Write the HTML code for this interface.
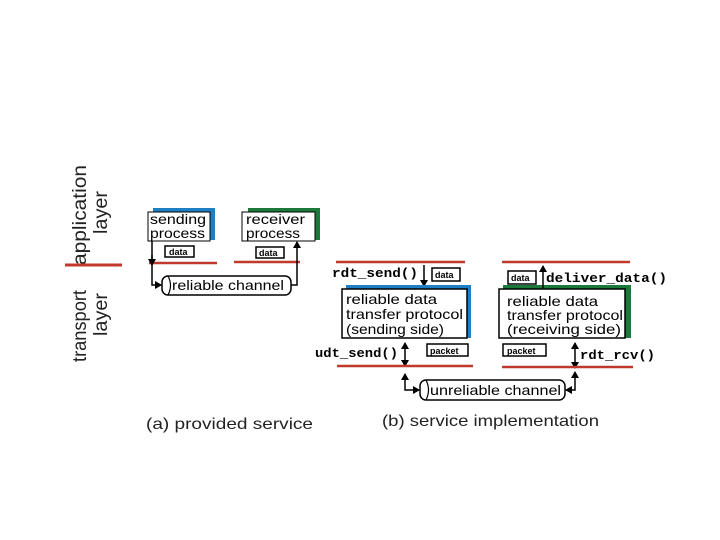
<!DOCTYPE html>
<html><head><meta charset="utf-8"><style>
html,body{margin:0;padding:0;background:#fff;}
svg{display:block;}
.s{font-family:"Liberation Sans",sans-serif;}
.m{font-family:"Liberation Mono",monospace;font-weight:bold;}
</style></head><body>
<svg width="720" height="540" viewBox="0 0 720 540" xmlns="http://www.w3.org/2000/svg">
<defs>
<marker id="a" markerWidth="8" markerHeight="8" refX="6" refY="4" orient="auto" markerUnits="userSpaceOnUse"><path d="M0,0 L7,4 L0,8 z" fill="#000"/></marker>
</defs>
<g class="s" fill="#222" font-size="19">
<text transform="translate(86,265) rotate(-90)" textLength="100" lengthAdjust="spacingAndGlyphs">application</text>
<text transform="translate(107,234) rotate(-90)" textLength="43" lengthAdjust="spacingAndGlyphs">layer</text>
<text transform="translate(86,362) rotate(-90)" textLength="72" lengthAdjust="spacingAndGlyphs">transport</text>
<text transform="translate(107,336) rotate(-90)" textLength="43" lengthAdjust="spacingAndGlyphs">layer</text>
</g>
<line x1="65" y1="265" x2="122" y2="265" stroke="#c0392b" stroke-width="3"/>
<!-- (a) -->
<rect x="153" y="208" width="62" height="32" fill="#1f7fc4"/>
<rect x="148" y="212" width="62" height="29" fill="#fff" stroke="#000" stroke-width="1"/>
<text class="s" x="150" y="224" font-size="14" textLength="56" lengthAdjust="spacingAndGlyphs">sending</text>
<text class="s" x="150" y="238" font-size="14" textLength="55" lengthAdjust="spacingAndGlyphs">process</text>
<rect x="248" y="208" width="72" height="32" fill="#1b7a3a"/>
<rect x="242" y="212" width="73" height="29" fill="#fff" stroke="#000" stroke-width="1"/>
<text class="s" x="246" y="224" font-size="14" textLength="59" lengthAdjust="spacingAndGlyphs">receiver</text>
<text class="s" x="246" y="238" font-size="14" textLength="54" lengthAdjust="spacingAndGlyphs">process</text>
<rect x="165" y="246" width="29" height="11" fill="#fff" stroke="#000" stroke-width="1.5"/>
<text class="s" x="169" y="255" font-size="9" font-weight="bold">data</text>
<rect x="256" y="247" width="28" height="11" fill="#fff" stroke="#000" stroke-width="1.5"/>
<text class="s" x="259" y="256" font-size="9" font-weight="bold">data</text>
<line x1="149" y1="263" x2="217" y2="263" stroke="#c0392b" stroke-width="2.5"/>
<line x1="234" y1="262" x2="300" y2="262" stroke="#c0392b" stroke-width="2.5"/>
<polyline points="152,241 152,285 161,285" fill="none" stroke="#000" stroke-width="1.5" marker-end="url(#a)"/>
<line x1="152" y1="255" x2="152" y2="265" stroke="#000" stroke-width="1.5" marker-end="url(#a)"/>
<polyline points="291,285 297,285 297,242" fill="none" stroke="#000" stroke-width="1.5" marker-end="url(#a)"/>
<rect x="162" y="276" width="129" height="19" rx="6" fill="#fff" stroke="#000" stroke-width="1.5"/>
<path d="M168,276 Q173,285.5 168,295" fill="none" stroke="#000" stroke-width="1.2"/>
<text class="s" x="172" y="290" font-size="14" textLength="112" lengthAdjust="spacingAndGlyphs">reliable channel</text>
<!-- (b) -->
<line x1="336" y1="262" x2="465" y2="262" stroke="#c0392b" stroke-width="2.5"/>
<line x1="502" y1="262" x2="630" y2="262" stroke="#c0392b" stroke-width="2.5"/>
<text class="m" x="332" y="277" font-size="13" textLength="86" lengthAdjust="spacingAndGlyphs">rdt_send()</text>
<line x1="424" y1="265" x2="424" y2="286" stroke="#000" stroke-width="1.5" marker-end="url(#a)"/>
<rect x="432" y="268" width="28" height="13" fill="#fff" stroke="#000" stroke-width="1.5"/>
<text class="s" x="435" y="278" font-size="9" font-weight="bold">data</text>
<rect x="346" y="285" width="125" height="53" fill="#1f7fc4"/>
<rect x="342" y="289" width="125" height="49" fill="#fff" stroke="#000" stroke-width="1.5"/>
<text class="s" x="346" y="304" font-size="14" textLength="91" lengthAdjust="spacingAndGlyphs">reliable data</text>
<text class="s" x="346" y="319" font-size="14" textLength="117" lengthAdjust="spacingAndGlyphs">transfer protocol</text>
<text class="s" x="346" y="334" font-size="14" textLength="98" lengthAdjust="spacingAndGlyphs">(sending side)</text>
<rect x="503" y="285" width="128" height="53" fill="#1b7a3a"/>
<rect x="499" y="289" width="126" height="49" fill="#fff" stroke="#000" stroke-width="1.5"/>
<text class="s" x="507" y="306" font-size="14" textLength="91" lengthAdjust="spacingAndGlyphs">reliable data</text>
<text class="s" x="507" y="320" font-size="14" textLength="116" lengthAdjust="spacingAndGlyphs">transfer protocol</text>
<text class="s" x="507" y="334" font-size="14" textLength="114" lengthAdjust="spacingAndGlyphs">(receiving side)</text>
<rect x="508" y="271" width="28" height="13" fill="#fff" stroke="#000" stroke-width="1.5"/>
<text class="s" x="511" y="281" font-size="9" font-weight="bold">data</text>
<line x1="543" y1="288" x2="543" y2="266" stroke="#000" stroke-width="1.5" marker-end="url(#a)"/>
<text class="m" x="546" y="282" font-size="13" textLength="121" lengthAdjust="spacingAndGlyphs">deliver_data()</text>
<rect x="427" y="344" width="41" height="12" fill="#fff" stroke="#000" stroke-width="1.5"/>
<text class="s" x="430" y="354" font-size="9" font-weight="bold">packet</text>
<rect x="503" y="344" width="43" height="12" fill="#fff" stroke="#000" stroke-width="1.5"/>
<text class="s" x="507" y="354" font-size="9" font-weight="bold">packet</text>
<text class="m" x="315" y="357" font-size="13" textLength="83" lengthAdjust="spacingAndGlyphs">udt_send()</text>
<line x1="405" y1="354" x2="405" y2="343" stroke="#000" stroke-width="1.5" marker-end="url(#a)"/>
<line x1="405" y1="354" x2="405" y2="366" stroke="#000" stroke-width="1.5" marker-end="url(#a)"/>
<text class="m" x="580" y="359" font-size="13" textLength="75" lengthAdjust="spacingAndGlyphs">rdt_rcv()</text>
<line x1="575" y1="355" x2="575" y2="343" stroke="#000" stroke-width="1.5" marker-end="url(#a)"/>
<line x1="575" y1="355" x2="575" y2="368" stroke="#000" stroke-width="1.5" marker-end="url(#a)"/>
<line x1="337" y1="366" x2="473" y2="366" stroke="#c0392b" stroke-width="2.5"/>
<line x1="502" y1="367" x2="633" y2="367" stroke="#c0392b" stroke-width="2.5"/>
<polyline points="405,384 405,374" fill="none" stroke="#000" stroke-width="1.5" marker-end="url(#a)"/>
<polyline points="405,384 405,390 419,390" fill="none" stroke="#000" stroke-width="1.5" marker-end="url(#a)"/>
<polyline points="575,384 575,372" fill="none" stroke="#000" stroke-width="1.5" marker-end="url(#a)"/>
<polyline points="575,384 575,390 566,390" fill="none" stroke="#000" stroke-width="1.5" marker-end="url(#a)"/>
<rect x="420" y="380" width="145" height="20" rx="6" fill="#fff" stroke="#000" stroke-width="1.5"/>
<path d="M426,380 Q431,390 426,400" fill="none" stroke="#000" stroke-width="1.2"/>
<text class="s" x="430" y="395" font-size="14" textLength="131" lengthAdjust="spacingAndGlyphs">unreliable channel</text>
<text class="s" x="146" y="429" font-size="16" fill="#222" textLength="167" lengthAdjust="spacingAndGlyphs">(a)  provided service</text>
<text class="s" x="382" y="426" font-size="16" fill="#222" textLength="217" lengthAdjust="spacingAndGlyphs">(b) service implementation</text>
</svg>
</body></html>
